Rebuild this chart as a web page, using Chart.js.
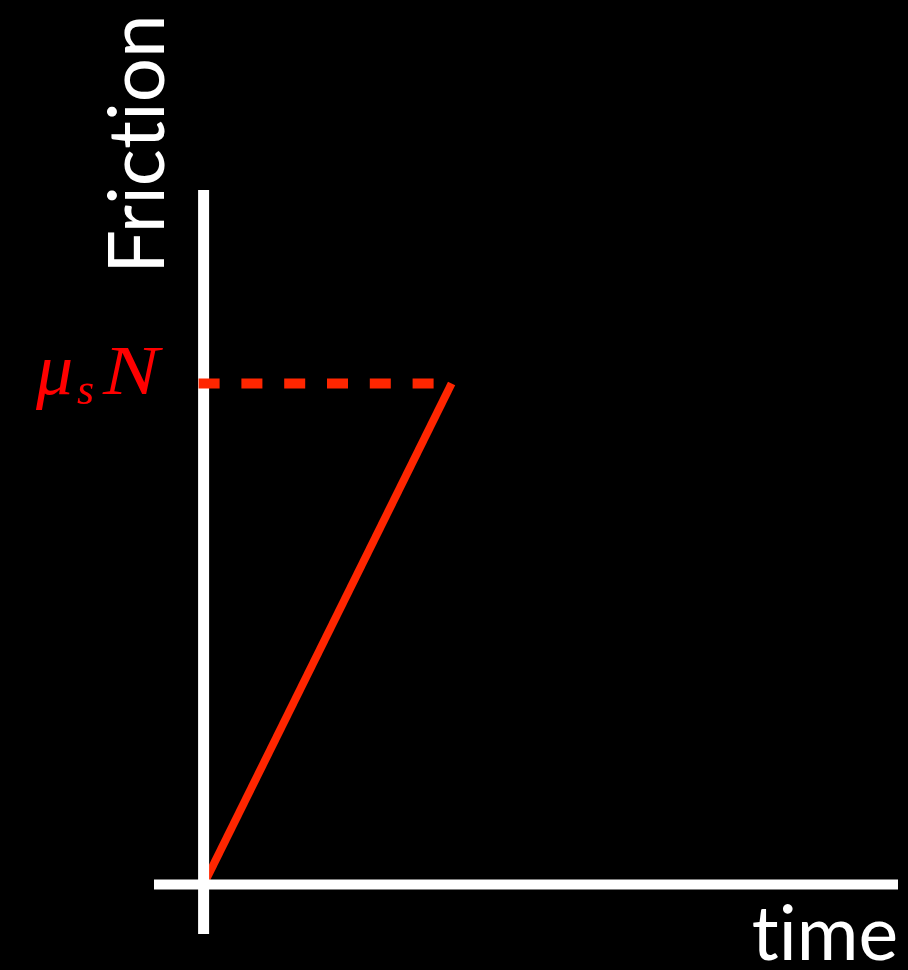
<!DOCTYPE html>
<html>
<head>
<meta charset="utf-8">
<title>Friction vs time</title>
<script src="https://cdn.jsdelivr.net/npm/chart.js@4/dist/chart.umd.min.js"></script>
<style>
html, body { margin: 0; padding: 0; background: #000; }
#wrap { width: 908px; height: 970px; }
</style>
</head>
<body>
<div id="wrap"><canvas id="chart-area" width="908" height="970"></canvas></div>
<script>
// static friction grows linearly with time until it reaches mu_s * N
var times = [0, 5];
var friction = [0, 10.1];
var muSN = 10.1;
var axisMin = -1;
var axisMax = 14;

var redLine = '#ff2600';

// white cross-hair axes, drawn right after the ramp so the dashed level sits on top
var axesPlugin = {
    id: 'axes',
    afterDatasetDraw: function(chart, args) {
        if (args.index !== 0) return;
        var ctx = chart.ctx;
        var xs = chart.scales.x, ys = chart.scales.y;
        var x0 = xs.getPixelForValue(0), y0 = ys.getPixelForValue(0);
        ctx.save();
        ctx.strokeStyle = '#fff';
        ctx.lineCap = 'butt';
        ctx.lineWidth = 11;
        ctx.beginPath();
        ctx.moveTo(x0, ys.getPixelForValue(axisMax));
        ctx.lineTo(x0, ys.getPixelForValue(axisMin));
        ctx.stroke();
        ctx.lineWidth = 10;
        ctx.beginPath();
        ctx.moveTo(xs.getPixelForValue(axisMin), y0);
        ctx.lineTo(xs.getPixelForValue(axisMax), y0);
        ctx.stroke();
        ctx.restore();
    }
};

// axis titles and the mu_s N level label
var labelsPlugin = {
    id: 'labels',
    afterDraw: function(chart) {
        var ctx = chart.ctx;
        var xs = chart.scales.x, ys = chart.scales.y;
        var x0 = xs.getPixelForValue(0);
        var yTop = ys.getPixelForValue(axisMax);
        var yMu = ys.getPixelForValue(muSN);
        ctx.save();
        ctx.textRendering = 'optimizeSpeed';   // no "ti" ligature

        ctx.fillStyle = '#fff';
        ctx.font = '78px Lato';
        ctx.textBaseline = 'alphabetic';
        ctx.save();
        ctx.translate(x0 - 40, yTop + 84);
        ctx.rotate(-Math.PI / 2);
        ctx.textAlign = 'left';
        ctx.fillText('Friction', 0, 0);
        ctx.restore();

        ctx.font = '75px Lato';
        ctx.textAlign = 'right';
        ctx.fillText('time', xs.getPixelForValue(axisMax), 960);

        ctx.fillStyle = '#f00';
        ctx.textAlign = 'left';
        ctx.font = 'italic 74px "Liberation Serif"';
        ctx.fillText('\u03bc', 36, yMu + 11);
        ctx.font = 'italic 44px "Liberation Serif"';
        ctx.fillText('s', 77, yMu + 21);
        ctx.font = 'italic 70px "Liberation Serif"';
        ctx.save();
        ctx.translate(103, yMu + 11);
        ctx.scale(1.2, 1);
        ctx.fillText('N', 0, 0);
        ctx.restore();
        ctx.restore();
    }
};

var rampPoints = times.map(function(t, i) { return { x: t, y: friction[i] }; });
var levelPoints = [{ x: 0, y: muSN }, { x: times[times.length - 1], y: muSN }];

var config = {
    type: 'line',
    data: {
        datasets: [{
            label: 'friction',
            data: rampPoints,
            borderColor: redLine,
            borderWidth: 8,
            pointRadius: 0,
            order: 2,
            clip: false
        }, {
            label: 'mu_s N',
            data: levelPoints,
            borderColor: redLine,
            borderWidth: 10,
            borderDash: [11, 31.8],
            borderCapStyle: 'square',
            pointRadius: 0,
            order: 1,
            clip: false
        }]
    },
    options: {
        responsive: false,
        animation: false,
        layout: { padding: { left: 154, right: 10, top: 190, bottom: 36 } },
        plugins: {
            legend: { display: false },
            tooltip: { enabled: false }
        },
        scales: {
            x: { type: 'linear', min: axisMin, max: axisMax, display: false },
            y: { type: 'linear', min: axisMin, max: axisMax, display: false }
        }
    },
    plugins: [axesPlugin, labelsPlugin]
};

window.onload = function() {
    var ctx = document.getElementById('chart-area').getContext('2d');
    window.frictionChart = new Chart(ctx, config);
};
</script>
</body>
</html>
